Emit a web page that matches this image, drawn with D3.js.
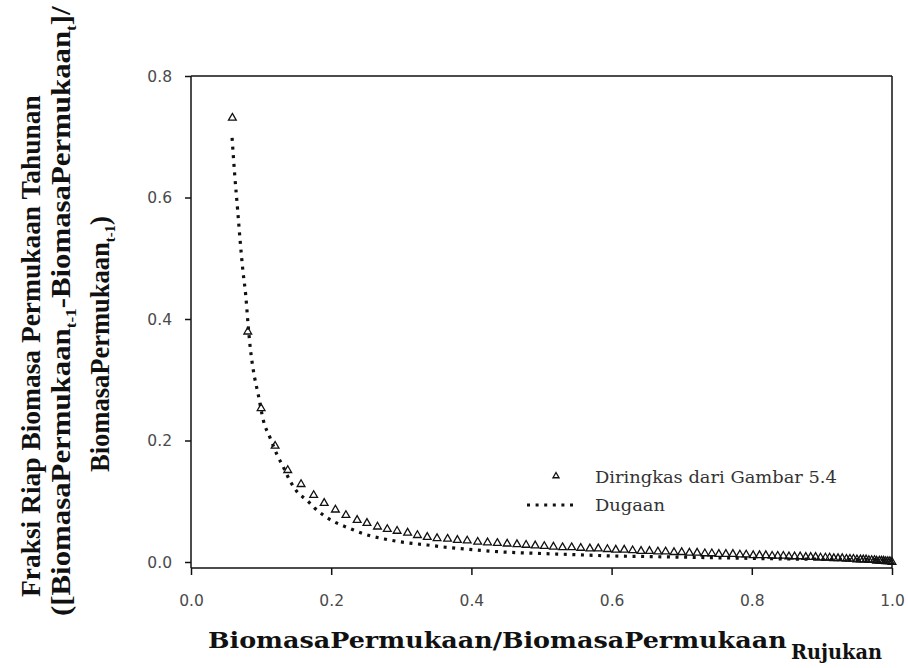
<!DOCTYPE html>
<html>
<head>
<meta charset="utf-8">
<script src="https://cdn.jsdelivr.net/npm/d3@7"></script>
<style>
  body { margin: 0; background: #fff; }
  svg { display: block; }
</style>
</head>
<body>
<svg id="chart" width="908" height="668"></svg>
<script>
// Axis ticks
const xTicks = [0, 0.2, 0.4, 0.6, 0.8, 1.0];
const yTicks = [0, 0.2, 0.4, 0.6, 0.8];

// Observed fraction (triangles), summarised from Gambar 5.4
const obsX = [0.059, 0.081, 0.100, 0.120, 0.138, 0.157, 0.175, 0.190, 0.206, 0.221,
  0.237, 0.251, 0.266, 0.280, 0.294, 0.309, 0.323, 0.337, 0.351, 0.366,
  0.380, 0.394, 0.409, 0.423, 0.437, 0.451, 0.465, 0.478, 0.491, 0.504,
  0.517, 0.530, 0.543, 0.556, 0.569, 0.581, 0.594, 0.606, 0.618, 0.630,
  0.642, 0.654, 0.666, 0.677, 0.689, 0.700, 0.711, 0.722, 0.733, 0.743,
  0.753, 0.763, 0.773, 0.783, 0.792, 0.802, 0.811, 0.820, 0.829, 0.837,
  0.845, 0.853, 0.861, 0.869, 0.877, 0.884, 0.891, 0.898, 0.905, 0.911,
  0.917, 0.923, 0.929, 0.935, 0.940, 0.945, 0.950, 0.955, 0.959, 0.963,
  0.967, 0.971, 0.975, 0.978, 0.982, 0.985, 0.988, 0.991, 0.994, 0.997, 1.000];
const obsY = [0.731, 0.379, 0.253, 0.191, 0.151, 0.128, 0.110, 0.097, 0.086, 0.077,
  0.069, 0.064, 0.058, 0.054, 0.051, 0.048, 0.044, 0.041, 0.039, 0.038,
  0.036, 0.035, 0.033, 0.032, 0.031, 0.030, 0.029, 0.028, 0.027, 0.026,
  0.025, 0.024, 0.024, 0.023, 0.022, 0.022, 0.021, 0.020, 0.020, 0.019,
  0.018, 0.018, 0.017, 0.017, 0.016, 0.016, 0.015, 0.015, 0.014, 0.014,
  0.013, 0.013, 0.013, 0.012, 0.012, 0.011, 0.011, 0.011, 0.010, 0.010,
  0.010, 0.009, 0.009, 0.009, 0.008, 0.008, 0.008, 0.007, 0.007, 0.007,
  0.006, 0.006, 0.006, 0.005, 0.005, 0.005, 0.004, 0.004, 0.004, 0.004,
  0.003, 0.003, 0.003, 0.002, 0.002, 0.002, 0.002, 0.001, 0.001, 0.001, 0.000];

// Estimated curve (Dugaan)
const estX = [0.0586, 0.0625, 0.0665, 0.070, 0.074, 0.078, 0.0815, 0.085, 0.089, 0.096,
  0.103, 0.113, 0.123, 0.131, 0.141, 0.151, 0.166, 0.177, 0.189, 0.201,
  0.214, 0.227, 0.240, 0.253, 0.280, 0.294, 0.337, 0.366, 0.394, 0.437,
  0.50, 0.55, 0.60, 0.65, 0.70, 0.75, 0.80, 0.85, 0.90, 0.95, 1.00];
const estY = [0.698, 0.635, 0.580, 0.530, 0.480, 0.440, 0.390, 0.348, 0.315, 0.275,
  0.234, 0.204, 0.176, 0.158, 0.134, 0.116, 0.101, 0.088, 0.077, 0.068,
  0.061, 0.055, 0.049, 0.044, 0.037, 0.034, 0.028, 0.024, 0.021, 0.017,
  0.014, 0.012, 0.010, 0.009, 0.008, 0.007, 0.006, 0.005, 0.0045, 0.004, 0.0035];

const legendLabels = ["Diringkas dari Gambar 5.4", "Dugaan"];
const xTitleMain = "BiomasaPermukaan/BiomasaPermukaan";
const xTitleSub = "Rujukan";

const svg = d3.select("#chart");
const x = d3.scaleLinear().domain([0, 1]).range([191, 892]);
const y = d3.scaleLinear().domain([0, 0.8]).range([562, 76]);
const baseY = 568; // x axis sits slightly below y = 0

const tickFont = "'DejaVu Sans', Verdana, sans-serif";

// Frame
const frame = svg.append("g").attr("stroke", "#111").attr("stroke-width", 1.5).attr("fill", "none");
frame.append("line").attr("x1", x(0)).attr("x2", x(0)).attr("y1", y(0.8)).attr("y2", baseY);
frame.append("line").attr("x1", x(0)).attr("x2", x(1)).attr("y1", baseY).attr("y2", baseY);
frame.append("line").attr("x1", x(0)).attr("x2", x(1)).attr("y1", y(0.8)).attr("y2", y(0.8));
frame.append("line").attr("x1", x(1)).attr("x2", x(1)).attr("y1", y(0.8)).attr("y2", baseY);

// X axis
const gx = svg.append("g").attr("transform", `translate(0,${baseY})`)
  .call(d3.axisBottom(x).tickValues(xTicks).tickFormat(d3.format(".1f")).tickSize(7).tickSizeOuter(0));
gx.select(".domain").remove();
gx.selectAll(".tick line").attr("stroke", "#111").attr("stroke-width", 1.5);
gx.selectAll(".tick text").attr("y", 33).attr("dy", "0.35em")
  .attr("font-family", tickFont).attr("font-size", 15.5).attr("fill", "#4a4a4a");

// Y axis
const gy = svg.append("g").attr("transform", `translate(${x(0)},0)`)
  .call(d3.axisLeft(y).tickValues(yTicks).tickFormat(d3.format(".1f")).tickSize(6).tickSizeOuter(0));
gy.select(".domain").remove();
gy.selectAll(".tick line").attr("stroke", "#111").attr("stroke-width", 1.5);
gy.selectAll(".tick text").attr("x", -19).attr("dy", "0.35em")
  .attr("font-family", tickFont).attr("font-size", 15.5).attr("fill", "#4a4a4a");

// Observed triangles
const obs = obsX.map((v, i) => ({ x: v, y: obsY[i] }));
const tri = d3.symbol().type(d3.symbolTriangle).size(26);
svg.append("g").selectAll("path").data(obs).join("path")
  .attr("d", tri)
  .attr("transform", d => `translate(${x(d.x)},${y(d.y)})`)
  .attr("fill", "none").attr("stroke", "#111").attr("stroke-width", 1.3);

// Dotted estimate curve
const est = estX.map((v, i) => ({ x: v, y: estY[i] }));
const line = d3.line().x(d => x(d.x)).y(d => y(d.y)).curve(d3.curveMonotoneX);
svg.append("path").datum(est)
  .attr("d", line)
  .attr("fill", "none").attr("stroke", "#111").attr("stroke-width", 3.2)
  .attr("stroke-dasharray", "3,5.6");

// Legend
const legend = svg.append("g");
legend.append("path").attr("d", d3.symbol().type(d3.symbolTriangle).size(16))
  .attr("transform", "translate(556,476)")
  .attr("fill", "none").attr("stroke", "#111").attr("stroke-width", 1.3);
legend.append("line").attr("x1", 527).attr("x2", 577).attr("y1", 505).attr("y2", 505)
  .attr("stroke", "#111").attr("stroke-width", 3.2).attr("stroke-dasharray", "3,5.6");
const legText = legend.selectAll("text").data(legendLabels).join("text")
  .attr("font-family", "'DejaVu Serif', serif").attr("font-size", 17).attr("fill", "#333")
  .attr("dy", "0.35em")
  .text(d => d);
const legW = legText.nodes()[0].getComputedTextLength();
const legS = 242 / legW;
legText.attr("transform", (d, i) => `translate(595,${i === 0 ? 477 : 505}) scale(${legS},1)`);

// X axis title: main part, then the lowered "Rujukan"
const xtFont = "'DejaVu Serif', serif";
const xtMain = svg.append("text")
  .attr("font-family", xtFont).attr("font-weight", "bold")
  .attr("font-size", 23).attr("fill", "#111").text(xTitleMain);
const mainW = xtMain.node().getComputedTextLength();
xtMain.attr("transform", `translate(208,648) scale(${(787 - 208) / mainW},1)`);
const xtSub = svg.append("text")
  .attr("font-family", xtFont).attr("font-weight", "bold")
  .attr("font-size", 21).attr("fill", "#111").text(xTitleSub);
const subW = xtSub.node().getComputedTextLength();
xtSub.attr("transform", `translate(791,659) scale(${(882 - 791) / subW},1)`);

// Y axis title, three rotated lines
const yTitleLines = [
  { parts: [["Fraksi Riap Biomasa Permukaan Tahunan", false]], base: 40, from: 597, to: 95 },
  { parts: [["([BiomasaPermukaan", false], ["t-1", true], ["-BiomasaPermukaan", false], ["t", true], ["]/", false]],
    base: 70, from: 616, to: 6 },
  { parts: [["BiomasaPermukaan", false], ["t-1", true], [")", false]], base: 109, from: 472, to: 216 }
];
yTitleLines.forEach(ln => {
  const t = svg.append("text")
    .attr("font-family", "'Liberation Serif', 'Times New Roman', serif").attr("font-weight", "bold")
    .attr("font-size", 27).attr("fill", "#111");
  let shifted = false;
  ln.parts.forEach(([s, sub]) => {
    const sp = t.append("tspan").text(s);
    if (sub) { sp.attr("font-size", 15).attr("dy", 6); shifted = true; }
    else if (shifted) { sp.attr("dy", -6); shifted = false; }
  });
  const w = t.node().getComputedTextLength();
  t.attr("transform", `translate(${ln.base},${ln.from}) rotate(-90) scale(${(ln.from - ln.to) / w},1)`);
});
</script>
</body>
</html>
